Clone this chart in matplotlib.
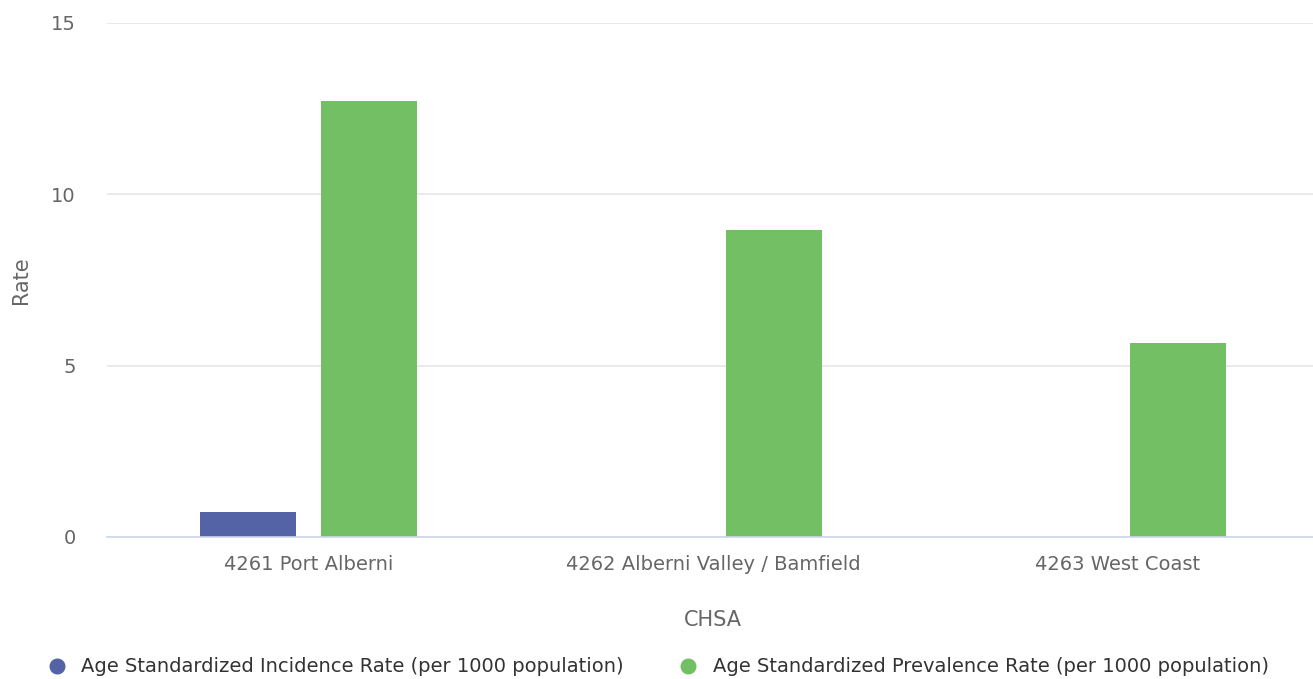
import matplotlib
import numpy as np

matplotlib.use("Agg")
import matplotlib.pyplot as plt
from matplotlib.lines import Line2D

categories = ["4261 Port Alberni", "4262 Alberni Valley / Bamfield", "4263 West Coast"]
incidence = [0.73, np.nan, np.nan]
prevalence = [12.71, 8.95, 5.65]
series_names = [
    "Age Standardized Incidence Rate (per 1000 population)",
    "Age Standardized Prevalence Rate (per 1000 population)",
]
y_ticks = [0, 5, 10, 15]

BLUE = "#5363a6"
GREEN = "#72c063"
TEXT = "#666666"

plt.rcParams["font.family"] = ["DejaVu Sans"]

fig = plt.figure(figsize=(13.13, 6.79), dpi=100)
W, H = 1313, 679
# plot area runs a bit past the right edge, as in the reference
ax = fig.add_axes([106.5 / W, 1 - 537 / H, 1213.5 / W, (537 - 22.5) / H])

x = np.arange(len(categories))
bar_w = 0.237
off = 0.1496
ax.bar(x - off, incidence, width=bar_w, color=BLUE, zorder=3)
ax.bar(x + off, prevalence, width=bar_w, color=GREEN, zorder=3)

ax.set_xlim(-0.5, len(categories) - 0.5)
ax.set_ylim(0, 15)
ax.set_yticks(y_ticks)
ax.set_xticks(x)
ax.set_xticklabels(categories)
ax.tick_params(axis="both", length=0, labelsize=14, colors=TEXT)
ax.tick_params(axis="x", pad=13)
ax.tick_params(axis="y", pad=22)

ax.grid(True, axis="y", color="#e6e6e6", linewidth=1.2, zorder=0)
for s in ["top", "right", "left"]:
    ax.spines[s].set_visible(False)
ax.spines["bottom"].set_color("#ccd6eb")
ax.spines["bottom"].set_linewidth(1.2)
ax.spines["bottom"].set_zorder(4)

ax.set_xlabel("CHSA", fontsize=15, color=TEXT)
ax.set_ylabel("Rate", fontsize=15, color=TEXT)
ax.xaxis.set_label_coords((713 - 106.5) / 1213.5, -(610 - 537) / (537 - 22.5))
ax.yaxis.set_label_coords(-(106.5 - 31) / 1213.5, (537 - 280) / (537 - 22.5))

handles = [
    Line2D([], [], marker="o", linestyle="", markersize=10.5, color=c)
    for c in (BLUE, GREEN)
]
fig.legend(
    handles,
    series_names,
    loc="center",
    bbox_to_anchor=(658 / W, 1 - 667 / H),
    ncol=2,
    frameon=False,
    fontsize=14,
    labelcolor="#333333",
    handletextpad=0.75,
    columnspacing=2.8,
    handlelength=1.0,
)

fig.savefig("out.png", dpi=100)
